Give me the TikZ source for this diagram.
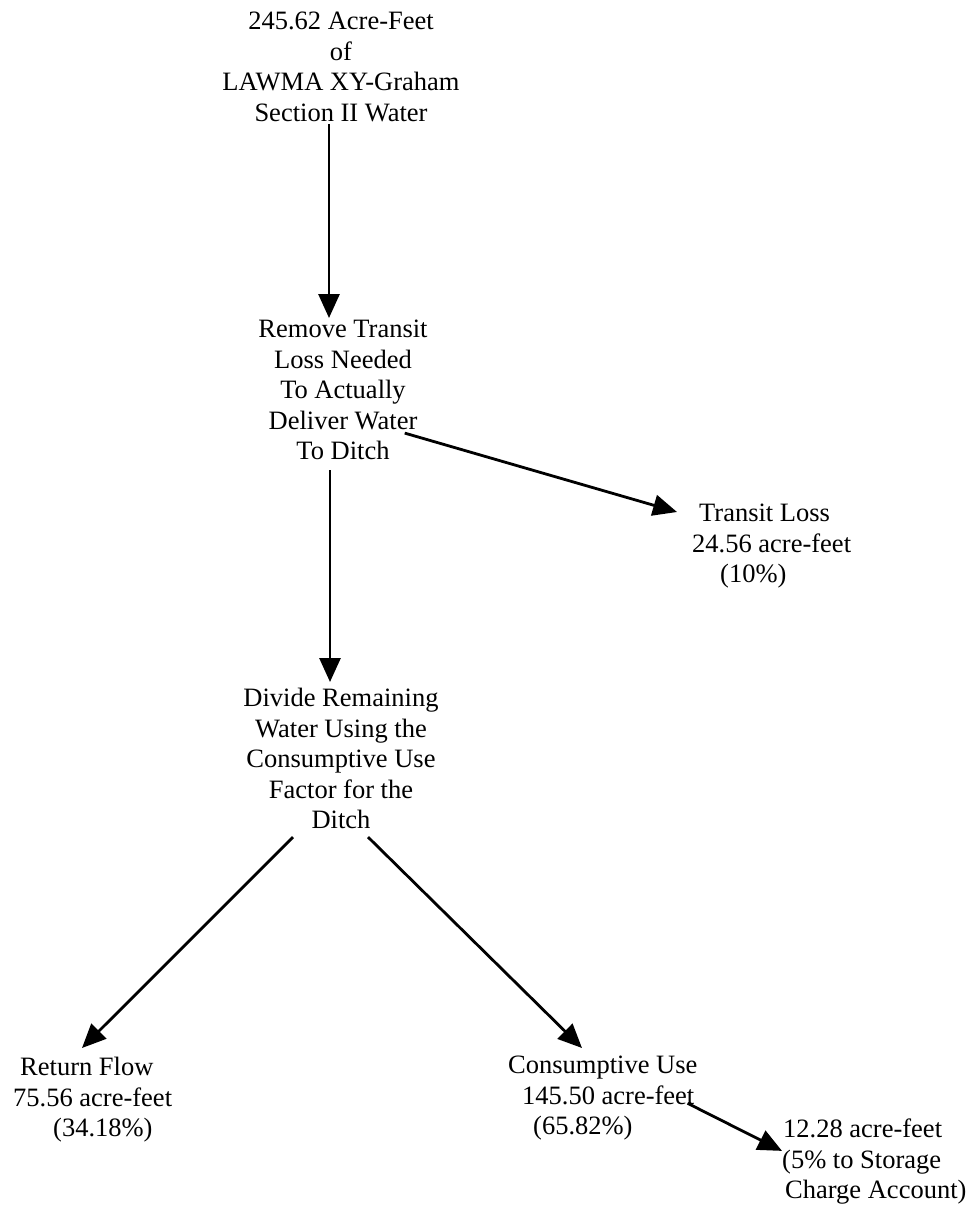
\documentclass[tikz,border=0pt]{standalone}
\usepackage{fontspec}
\setmainfont{Liberation Serif}
\usetikzlibrary{arrows.meta}

\begin{document}
\begin{tikzpicture}[x=1pt, y=-1pt,
    every node/.style={inner sep=0pt, font=\fontsize{26.5pt}{30.5pt}\selectfont},
    flow/.style={-{Triangle[length=24pt,width=21pt]}, line width=2.8pt}]
    \useasboundingbox (0,0) rectangle (977,1208);

    % Steps down the middle
    \node[anchor=north, align=center] (source) at (341,12) {245.62 Acre-Feet\\of\\LAWMA XY-Graham\\Section II Water};
    \node[anchor=north, align=center] (remove) at (343,320) {Remove Transit\\Loss Needed\\To Actually\\Deliver Water\\To Ditch};
    \node[anchor=north, align=center] (divide) at (341,688) {Divide Remaining\\Water Using the\\Consumptive Use\\Factor for the\\Ditch};

    % Results
    \node[anchor=north west, align=left] (transit) at (692,504) {\hspace*{7pt}Transit Loss\\24.56 acre-feet\\\hspace*{28pt}(10\%)};
    \node[anchor=north west, align=left] (return) at (13,1057) {\hspace*{7pt}Return Flow\\75.56 acre-feet\\\hspace*{40pt}(34.18\%)};
    \node[anchor=north west, align=left] (consumptive) at (508,1056) {Consumptive Use\\\hspace*{14pt}145.50 acre-feet\\\hspace*{25pt}(65.82\%)};
    \node[anchor=north west, align=left] (storage) at (782,1119) {\hspace*{1pt}12.28 acre-feet\\(5\% to Storage\\\hspace*{3pt}Charge Account)};

    % Draw the arrows
    \draw[flow] ([xshift=-12pt,yshift=-2pt]source.south) -- ([xshift=-14pt,yshift=2pt]remove.north);
    \draw[flow] ([xshift=-23pt,yshift=-43pt]remove.east) -- ([xshift=-15pt,yshift=-8pt]transit.north west);
    \draw[flow] ([xshift=-13pt,yshift=-10pt]remove.south) -- ([xshift=-11pt,yshift=6pt]divide.north);
    \draw[flow] ([xshift=-48pt,yshift=-8pt]divide.south) -- ([xshift=69pt,yshift=9pt]return.north west);
    \draw[flow] ([xshift=27pt,yshift=-8pt]divide.south) -- ([xshift=74pt,yshift=8pt]consumptive.north west);
    \draw[flow] ([xshift=-10pt,yshift=-5pt]consumptive.east) -- ([yshift=11pt]storage.west);

\end{tikzpicture}
\end{document}
